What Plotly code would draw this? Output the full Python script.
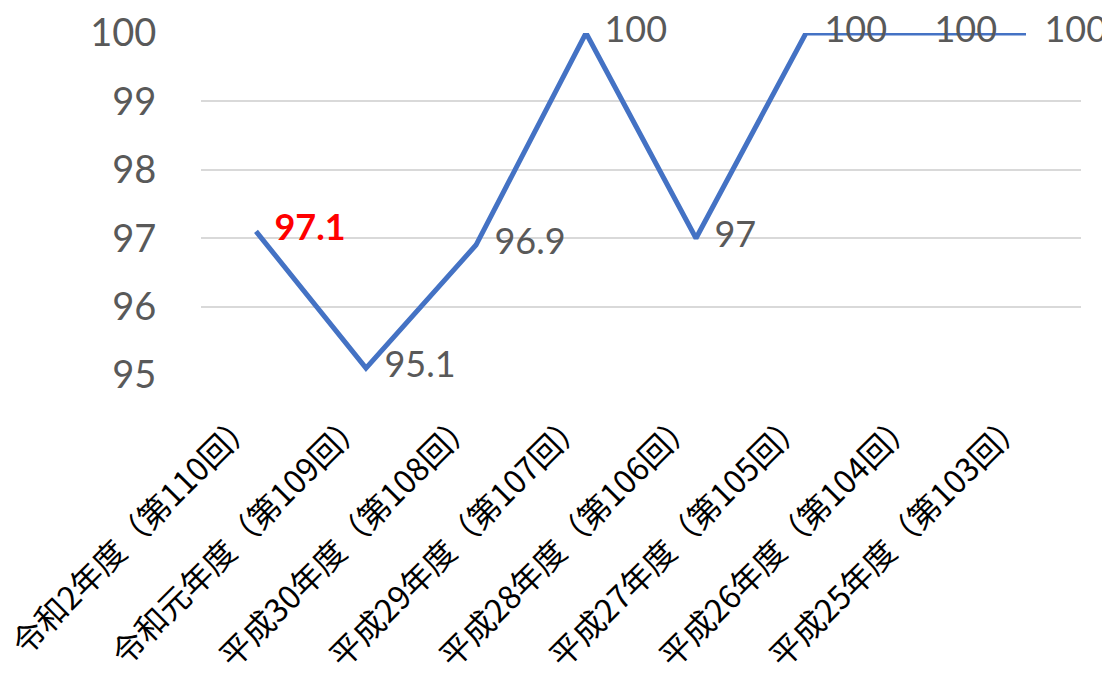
import plotly.graph_objects as go

categories = ["令和2年度（第110回）", "令和元年度（第109回）", "平成30年度（第108回）",
              "平成29年度（第107回）", "平成28年度（第106回）", "平成27年度（第105回）",
              "平成26年度（第104回）", "平成25年度（第103回）"]
values = [97.1, 95.1, 96.9, 100, 97, 100, 100, 100]
highlight = [True, False, False, False, False, False, False, False]

pad = "\u00a0\u00a0"
labels = [(pad + "<b>%g</b>" % v) if h else (pad + "%g" % v) for v, h in zip(values, highlight)]
label_colors = ["#FF0000" if h else "#595959" for h in highlight]

fig = go.Figure()
fig.add_trace(go.Scatter(
    x=categories, y=values, mode="lines+text",
    line=dict(color="#4472C4", width=5),
    text=labels, textposition="middle right",
    textfont=dict(family="Lato, Noto Sans", size=36, color=label_colors),
    cliponaxis=False, hoverinfo="skip"
))
fig.update_layout(
    width=1102, height=692,
    margin=dict(l=193, r=29, t=25, b=325, autoexpand=False),
    paper_bgcolor="white", plot_bgcolor="white",
    showlegend=False,
)
fig.update_xaxes(
    type="category", range=[-0.5, 7.5], showgrid=False, showline=False, zeroline=False,
    tickmode="array", tickvals=categories, ticktext=[c + "\u00a0\u00a0" for c in categories],
    tickangle=-45, tickfont=dict(family="Noto Sans CJK JP", size=32, color="#000000"),
    ticks="outside", ticklen=6, tickcolor="rgba(0,0,0,0)"
)
fig.update_yaxes(
    range=[95, 100], dtick=1, showgrid=True, gridcolor="#D9D9D9", gridwidth=2,
    zeroline=False, showline=False,
    tickfont=dict(family="Lato, Noto Sans", size=38, color="#595959"),
    ticks="outside", ticklen=36, tickcolor="rgba(0,0,0,0)"
)
fig.write_html("out.html")
